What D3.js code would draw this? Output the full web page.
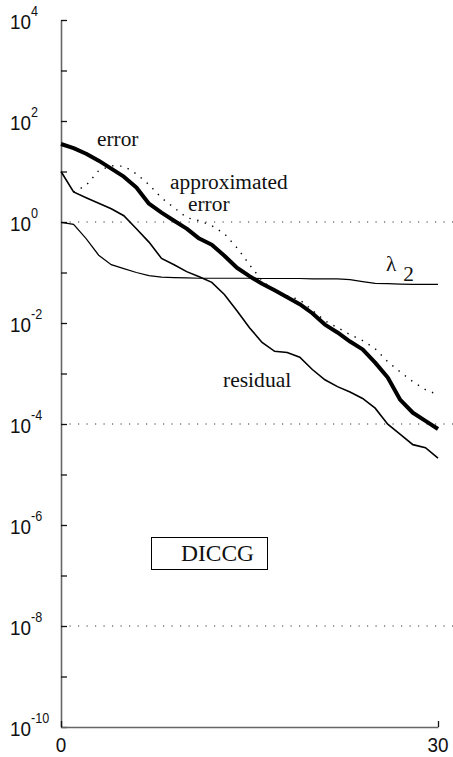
<!DOCTYPE html>
<html>
<head>
<meta charset="utf-8">
<script src="https://cdn.jsdelivr.net/npm/d3@7/dist/d3.min.js"></script>
<style>
  html, body { margin: 0; padding: 0; background: #fff; }
  svg { display: block; }
</style>
</head>
<body>
<svg id="chart" width="453" height="757"></svg>
<script>
// Iteration counts (x) for the convergence history
const iterations = d3.range(0, 31);

// True error of the iterate (thick line)
const errorValues = [35, 29, 22.5, 16.4, 11.4, 7.9, 4.8, 2.3, 1.53, 1.06,
  0.74, 0.47, 0.355, 0.215, 0.124, 0.0845, 0.060, 0.0446, 0.0325, 0.0236,
  0.0156, 0.0093, 0.0065, 0.0043, 0.0030, 0.00164, 0.00083, 0.0003, 0.000167,
  0.000115, 0.0000795];

// Approximated error (dotted line), available from iteration 1
const approxIterations = d3.range(1, 31);
const approxValues = [3.9, 5.3, 10.4, 13, 12.7, 9, 5.5, 3.0, 1.92,
  1.22, 1.06, 0.845, 0.586, 0.31, 0.143, 0.069, 0.0436, 0.0347, 0.0288,
  0.0179, 0.0111, 0.0081, 0.0059, 0.0045, 0.0031, 0.00171, 0.00107, 0.00069,
  0.00048, 0.00038];

// Residual norm
const residualValues = [10, 3.93, 3.03, 2.36, 1.83, 1.33, 0.736, 0.40, 0.19,
  0.142, 0.104, 0.0826, 0.0637, 0.0368, 0.0175, 0.00807, 0.00411, 0.00275,
  0.0026, 0.0021, 0.0012, 0.00075, 0.00055, 0.00043, 0.00032, 0.000206,
  0.0000991, 0.000062, 0.000039, 0.000034, 0.000021];

// Estimate of the second eigenvalue, lambda_2
const lambdaValues = [0.98, 0.90, 0.47, 0.22, 0.143, 0.119, 0.10, 0.087,
  0.081, 0.079, 0.078, 0.077, 0.077, 0.077, 0.077, 0.077, 0.076, 0.076,
  0.076, 0.076, 0.075, 0.075, 0.075, 0.072, 0.066, 0.061, 0.060, 0.059,
  0.058, 0.058, 0.058];

// Axis ticks: every decade, labels on even powers
const yDecades = d3.range(-10, 5);
const yLabelPowers = [4, 2, 0, -2, -4, -6, -8, -10];
const xTickValues = [0, 30];
const refLinePowers = [0, -4, -8];

const svg = d3.select("#chart");

const x = d3.scaleLinear().domain([0, 30]).range([61, 438]);
const y = d3.scaleLog().domain([1e-10, 1e4]).range([727, 20]);

const axisColor = "#666";

// Dotted reference lines
svg.append("g")
  .selectAll("line")
  .data(refLinePowers)
  .join("line")
  .attr("x1", x(0))
  .attr("x2", 453)
  .attr("y1", d => y(Math.pow(10, d)))
  .attr("y2", d => y(Math.pow(10, d)))
  .attr("stroke", "#333")
  .attr("stroke-width", 1)
  .attr("stroke-dasharray", "1.2,7.3");

// Y axis with inward ticks
const yAxis = svg.append("g")
  .attr("transform", `translate(${x(0)},0)`)
  .call(d3.axisRight(y)
    .tickValues(yDecades.map(p => Math.pow(10, p)))
    .tickSize(6)
    .tickSizeOuter(0)
    .tickFormat(""));
yAxis.select(".domain").attr("stroke", axisColor).attr("stroke-width", 1.6);
yAxis.selectAll(".tick line").attr("stroke", "#111").attr("stroke-width", 1.3);

// X axis with upward tick
const xAxis = svg.append("g")
  .attr("transform", `translate(0,${y(1e-10)})`)
  .call(d3.axisTop(x)
    .tickValues(xTickValues)
    .tickSize(6)
    .tickSizeOuter(0)
    .tickFormat(""));
xAxis.select(".domain").attr("stroke", axisColor).attr("stroke-width", 1.6);
xAxis.selectAll(".tick line").attr("stroke", "#111").attr("stroke-width", 1.3);

// Y tick labels: 10 with a superscript exponent
const yLabels = svg.append("g")
  .attr("font-family", "Liberation Sans, Arial, sans-serif")
  .attr("fill", "#111");
yLabelPowers.forEach(p => {
  const ty = y(Math.pow(10, p));
  const t = yLabels.append("text")
    .attr("transform", `translate(10,${ty + 9}) scale(0.9,1)`);
  t.append("tspan").attr("font-size", 21).text("10");
  t.append("tspan").attr("font-size", 14).attr("dy", -13).text(String(p));
});

// X tick labels
svg.append("g")
  .attr("font-family", "Liberation Sans, Arial, sans-serif")
  .attr("font-size", 21)
  .attr("fill", "#111")
  .selectAll("text")
  .data(xTickValues)
  .join("text")
  .attr("transform", d => `translate(${x(d)},752) scale(0.9,1)`)
  .attr("text-anchor", "middle")
  .text(d => d);

const line = d3.line()
  .x(d => x(d[0]))
  .y(d => y(d[1]));

// lambda_2
svg.append("path")
  .datum(iterations.map((k, i) => [k, lambdaValues[i]]))
  .attr("d", line)
  .attr("fill", "none")
  .attr("stroke", "#000")
  .attr("stroke-width", 1.2);

// residual
svg.append("path")
  .datum(iterations.map((k, i) => [k, residualValues[i]]))
  .attr("d", line)
  .attr("fill", "none")
  .attr("stroke", "#000")
  .attr("stroke-width", 1.6);

// approximated error
svg.append("path")
  .datum(approxIterations.map((k, i) => [k, approxValues[i]]))
  .attr("d", line)
  .attr("fill", "none")
  .attr("stroke", "#000")
  .attr("stroke-width", 1.4)
  .attr("stroke-dasharray", "1.4,6.6");

// error
svg.append("path")
  .datum(iterations.map((k, i) => [k, errorValues[i]]))
  .attr("d", line)
  .attr("fill", "none")
  .attr("stroke", "#000")
  .attr("stroke-width", 4)
  .attr("stroke-linejoin", "round");

// Curve annotations
const serif = "Liberation Serif, Times New Roman, serif";
const notes = svg.append("g")
  .attr("font-family", serif)
  .attr("font-size", 22)
  .attr("fill", "#111");
notes.append("text").attr("transform", "translate(97,146) scale(0.97,1)").text("error");
// two-line label for the dotted curve
notes.append("text").attr("transform", "translate(170,189) scale(1.07,1)")
  .attr("font-size", 20).text("approximated");
notes.append("text").attr("transform", "translate(188,211) scale(1.07,1)")
  .attr("font-size", 20).text("error");
notes.append("text").attr("transform", "translate(223,387) scale(0.98,1)").text("residual");
const lam = notes.append("text").attr("transform", "translate(386,271) scale(0.97,1)");
lam.append("tspan").text("λ");
lam.append("tspan").attr("dx", 7).attr("dy", 10).text("2");

// Method label in a box
svg.append("rect")
  .attr("x", 151.5).attr("y", 537.5)
  .attr("width", 116).attr("height", 32)
  .attr("fill", "none")
  .attr("stroke", "#000")
  .attr("stroke-width", 1);
svg.append("text")
  .attr("x", 217.5).attr("y", 561)
  .attr("text-anchor", "middle")
  .attr("font-family", serif)
  .attr("font-size", 23.5)
  .attr("fill", "#111")
  .text("DICCG");
</script>
</body>
</html>
